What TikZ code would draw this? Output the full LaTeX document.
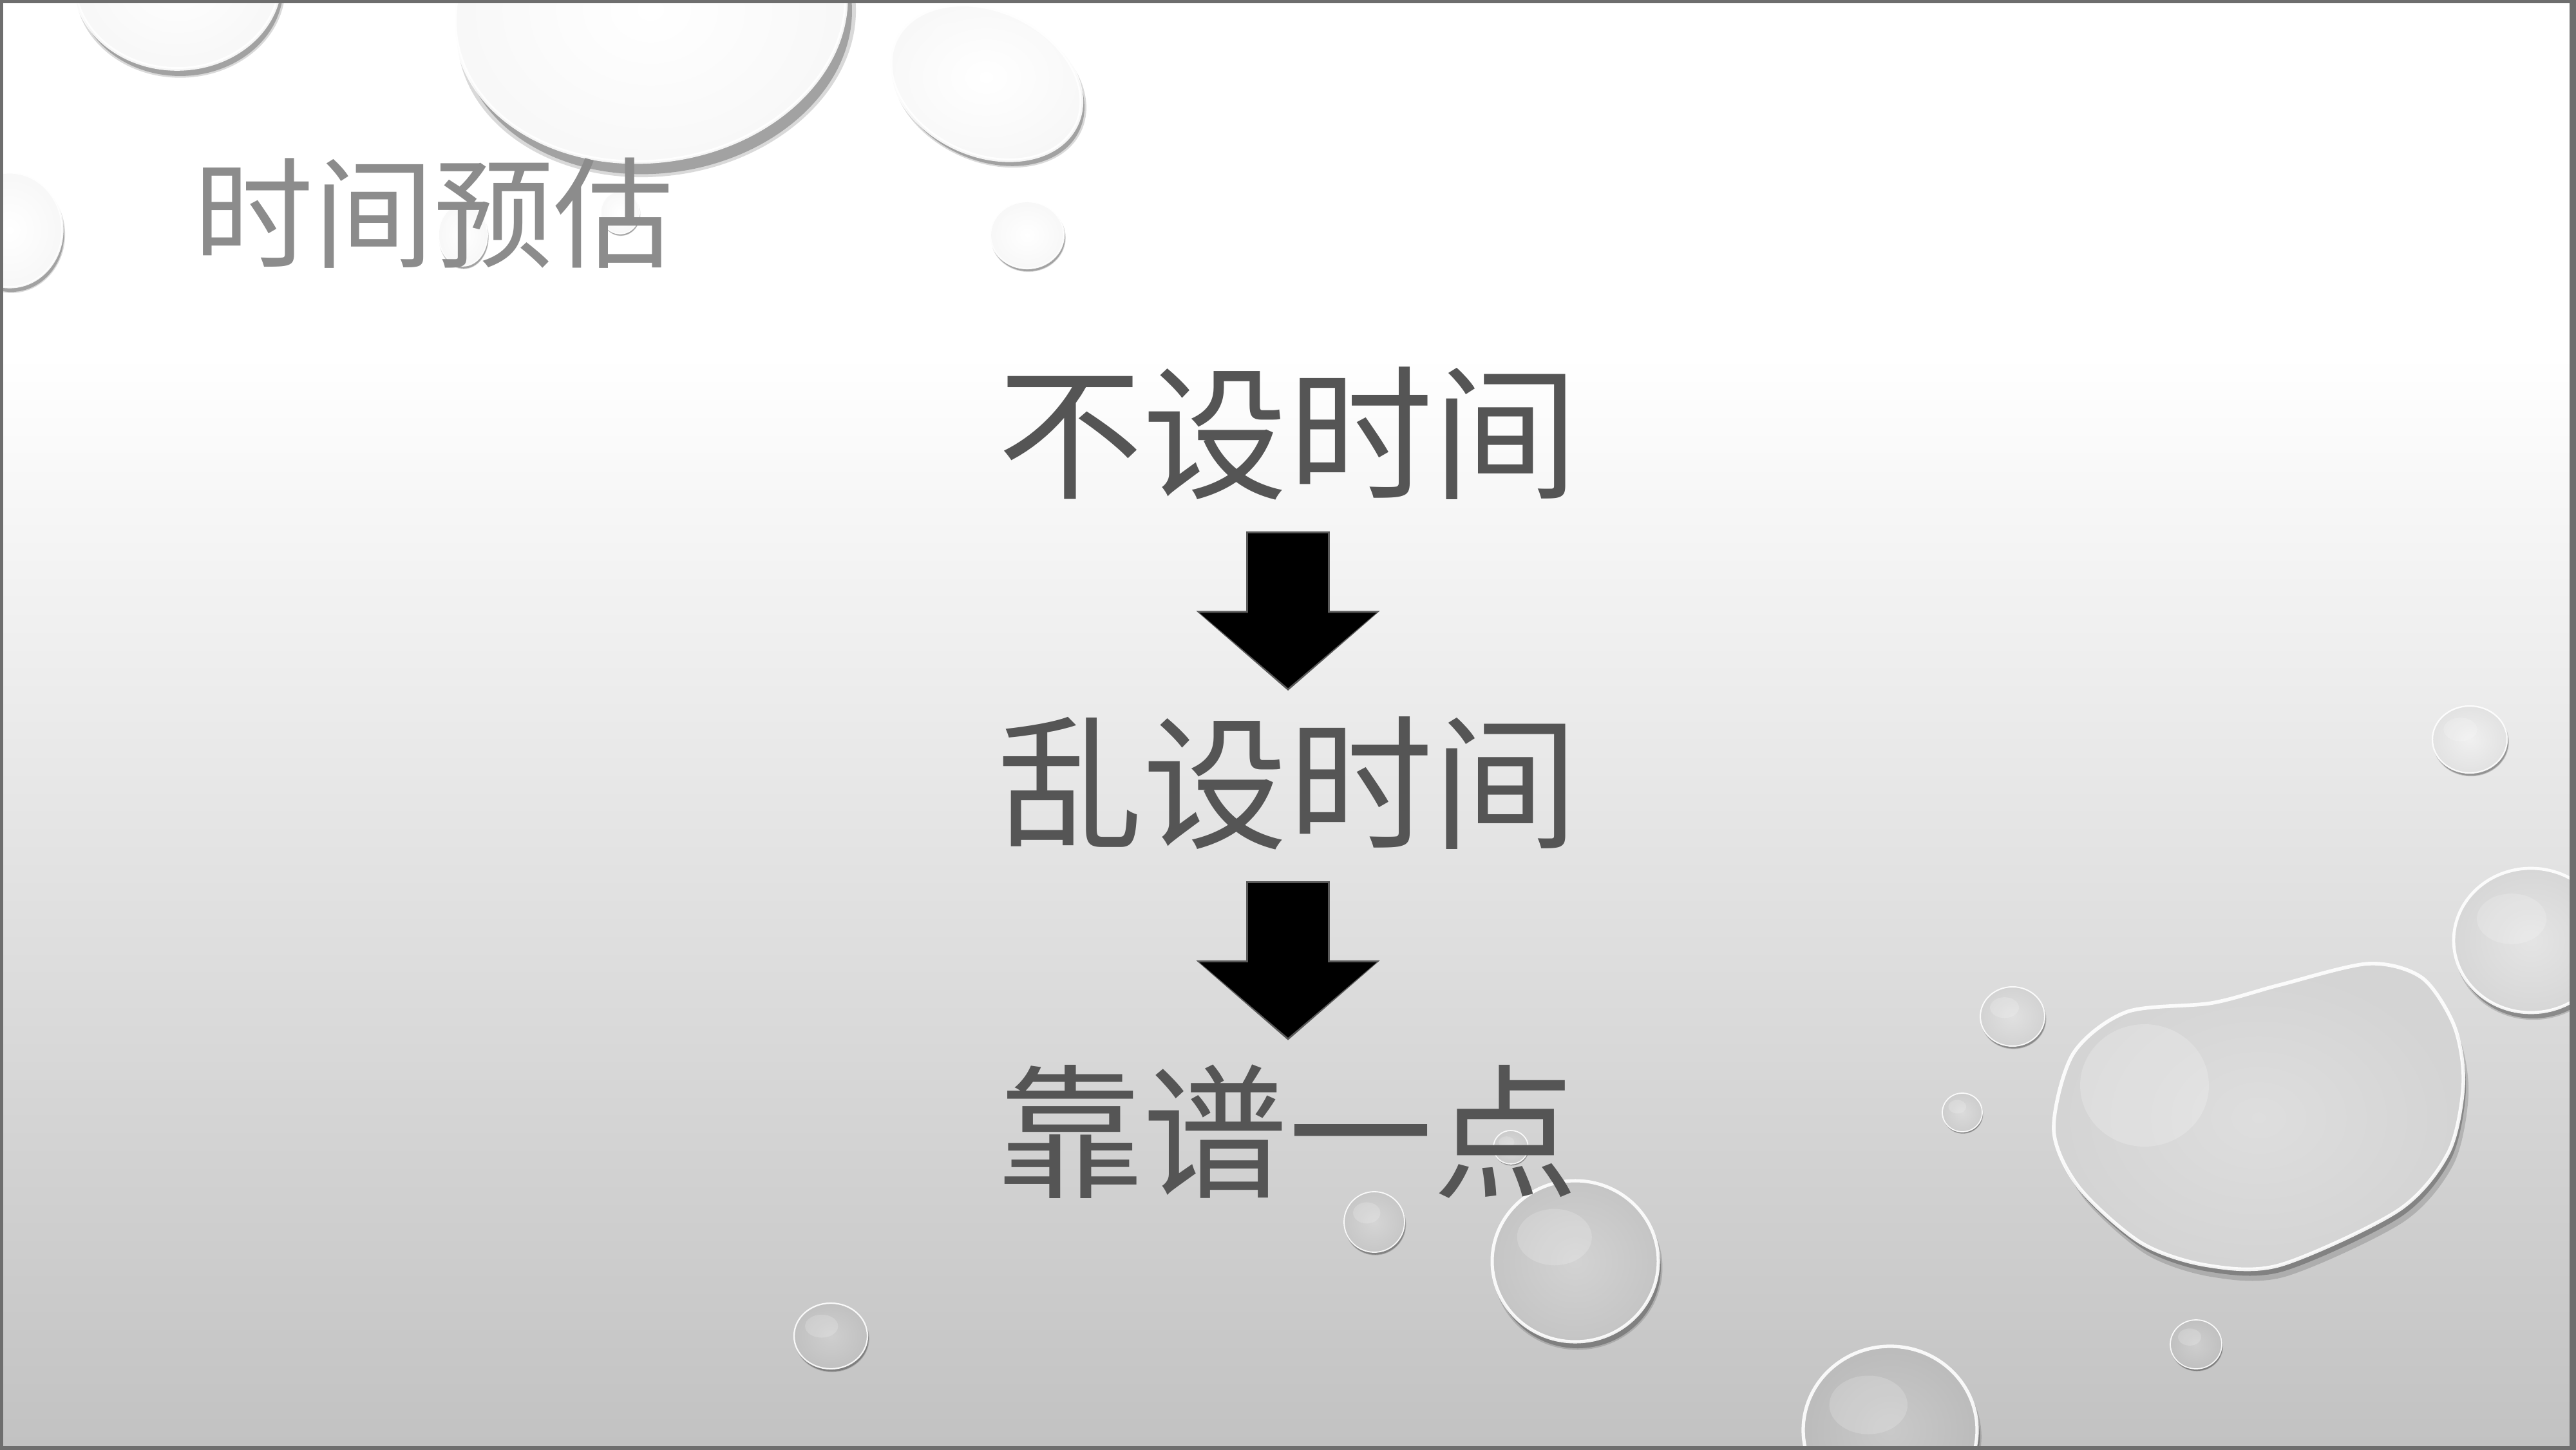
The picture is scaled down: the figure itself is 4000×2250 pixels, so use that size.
\documentclass[tikz,border=0pt]{standalone}
\usepackage{fontspec}
\newfontfamily\cjk{Noto Sans CJK SC}
\usetikzlibrary{arrows.meta,positioning}
\definecolor{lblgray}{HTML}{555555}
\definecolor{ttlgray}{HTML}{8C8C8C}
\definecolor{framegray}{HTML}{6E6E6E}
\colorlet{bgbottom}{gray!48}
\pgfdeclareverticalshading{slidebg}{100bp}{color(0bp)=(bgbottom); color(25bp)=(bgbottom); color(62.75bp)=(white); color(100bp)=(white)}

\begin{document}
\begin{tikzpicture}[
  x=0.01cm, y=0.01cm,
  lbl/.style={font=\cjk\fontsize{64}{64}\selectfont, text=lblgray, inner sep=0pt,
    text height=56.3pt, text depth=7.7pt},
  ttl/.style={font=\cjk\fontsize{53}{53}\selectfont, text=ttlgray, inner sep=0pt,
    text height=46.6pt, text depth=6.4pt},
  down/.style={line width=1.24cm, black, -{Triangle[length=1.17cm, width=2.68cm]},
    shorten <=0.43cm, shorten >=0.33cm},
  downedge/.style={line width=1.30cm, gray!70!black, -{Triangle[length=1.24cm, width=2.78cm]},
    shorten <=0.40cm, shorten >=0.29cm}
]
\useasboundingbox (0,0) rectangle (4000,2250);
\shade[shading=slidebg] (0,0) rectangle (4000,2250);

\foreach \x/\y/\a/\b/\r in {275/-30/160/137/0, 1010/15/305/235/8, 1531/128/155/112/-25,
  1595/365/57/52/0, 15/357/82/89/0, 719/365/38/48/0, 963/330/30/33/0,
  3835/1148/58/52/0, 3930/1460/120/112/0, 3125/1578/50/46/0, 3047/1727/31/30/0,
  3410/2087/40/38/0, 2935/2220/135/130/0, 2446/1958/129/125/0, 2134/1897/47/47/0,
  1290/2074/57/51/0, 2346/1781/27/26/0}{
  \pgfmathsetmacro\yy{2250-\y}
  \pgfmathsetmacro\t{max(0,48*(1-\yy/1700))}
  \pgfmathsetmacro\tin{max(0,\t-5)}
  \pgfmathsetmacro\tout{\t+6}
  \pgfmathsetmacro\sx{\x+0.03*\a}
  \pgfmathsetmacro\sy{\yy-0.08*\b}
  \pgfmathsetmacro\lw{max(0.5,min(1.6,\a/90))}
  \fill[black, opacity=.15, rotate around={\r:(\sx,\sy)}] (\sx,\sy) ellipse [x radius=1.02*\a, y radius=1.02*\b];
  \fill[black, opacity=.25, rotate around={\r:(\sx,\sy)}] (\sx,\sy) ellipse [x radius=\a, y radius=\b];
  \shade[inner color=gray!\tin, outer color=gray!\tout, rotate around={\r:(\x,\yy)}] (\x,\yy) ellipse [x radius=\a, y radius=\b];
  \fill[white, opacity=.18, rotate around={\r:(\x,\yy)}] (\x-0.25*\a,\yy+0.3*\b) ellipse [x radius=0.45*\a, y radius=0.35*\b];
  \draw[white, opacity=.9, line width=\lw pt, rotate around={\r:(\x,\yy)}] (\x,\yy) ellipse [x radius=\a, y radius=\b];
}

\fill[black, opacity=.15] plot[smooth cycle] coordinates {(3197,478) (3227,596) (3310,661) (3443,675) (3548,703) (3686,736) (3769,714) (3819,639) (3833,550) (3810,443) (3732,353) (3548,268) (3433,268) (3332,303) (3236,389)};
\fill[black, opacity=.25] plot[smooth cycle] coordinates {(3193,486) (3223,604) (3306,669) (3439,683) (3544,711) (3682,744) (3765,722) (3815,647) (3829,558) (3806,451) (3728,361) (3544,276) (3429,276) (3328,311) (3232,397)};
\shade[inner color=gray!26, outer color=gray!34] plot[smooth cycle] coordinates {(3189,496) (3219,614) (3302,679) (3435,693) (3540,721) (3678,754) (3761,732) (3811,657) (3825,568) (3802,461) (3724,371) (3540,286) (3425,286) (3324,321) (3228,407)};
\fill[white, opacity=.2] (3330,565) ellipse [x radius=100, y radius=95];
\draw[white, opacity=.9, line width=1.6pt] plot[smooth cycle] coordinates {(3189,496) (3219,614) (3302,679) (3435,693) (3540,721) (3678,754) (3761,732) (3811,657) (3825,568) (3802,461) (3724,371) (3540,286) (3425,286) (3324,321) (3228,407)};

\draw[framegray, line width=3pt] (0,0) rectangle (4000,2250);
\fill[framegray] (3990,0) rectangle (4000,2250);

\node[ttl, anchor=west] (title) at (300,1919) {时间预估};
\node[lbl] (t1) at (2000,1578) {不设时间};
\node[lbl, below=3.16cm of t1] (t2) {乱设时间};
\node[lbl, below=3.16cm of t2] (t3) {靠谱一点};
\draw[downedge] (t1.south) -- (t2.north);
\draw[down] (t1.south) -- (t2.north);
\draw[downedge] (t2.south) -- (t3.north);
\draw[down] (t2.south) -- (t3.north);
\end{tikzpicture}
\end{document}
